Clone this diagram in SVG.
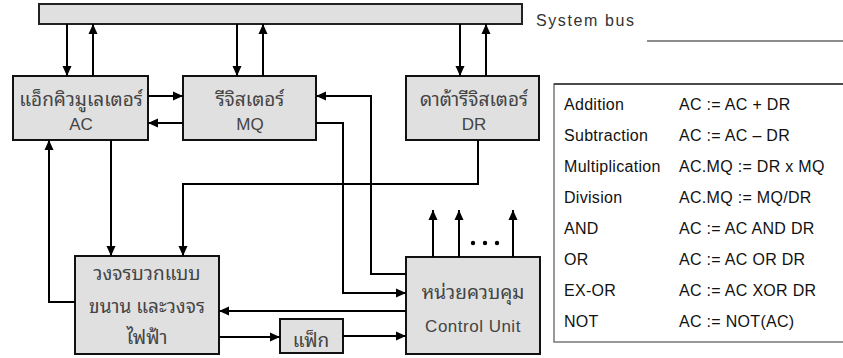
<svg xmlns="http://www.w3.org/2000/svg" width="843" height="358" viewBox="0 0 843 358">
<defs>
<marker id="ah" markerUnits="userSpaceOnUse" markerWidth="10" markerHeight="10" viewBox="0 0 10 10" refX="10" refY="5" orient="auto">
<path d="M0,0.5 L10,5 L0,9.5 Z" fill="#000"/>
</marker>
<style>
.box{fill:#e0e0e0;stroke:#111;stroke-width:2}
.th{font-family:"Noto Sans Thai Looped","Noto Sans Thai","Noto Sans","DejaVu Sans",sans-serif;font-size:19px;fill:#444;text-anchor:middle}
.en{font-family:"Liberation Sans",Arial,sans-serif;font-size:17px;fill:#444;text-anchor:middle}
.tb{font-family:"Liberation Sans",Arial,sans-serif;font-size:16px;fill:#111;letter-spacing:0.3px}
.arr{fill:none;stroke:#000;stroke-width:2;marker-end:url(#ah)}
</style>
</defs>
<rect width="843" height="358" fill="#fff"/>

<g id="bus">
<rect x="39" y="4" width="483" height="20" fill="#e0e0e0" stroke="#222" stroke-width="2"/>
<text x="536" y="26" font-family="Liberation Sans, Arial, sans-serif" font-size="16" fill="#333" letter-spacing="1.6">System bus</text>
<line x1="647" y1="41" x2="843" y2="41" stroke="#666" stroke-width="1.5"/>
</g>

<g id="ac">
<rect class="box" x="13" y="76" width="135" height="64"/>
<text class="th" x="81" y="106">แอ็กคิวมูเลเตอร์</text>
<text class="en" x="81" y="130">AC</text>
</g>
<g id="mq">
<rect class="box" x="183" y="76" width="133" height="64"/>
<text class="th" x="250" y="106">รีจิสเตอร์</text>
<text class="en" x="250" y="130">MQ</text>
</g>
<g id="dr">
<rect class="box" x="406" y="76" width="133" height="64"/>
<text class="th" x="474" y="106">ดาต้ารีจิสเตอร์</text>
<text class="en" x="474" y="130">DR</text>
</g>
<g id="adder">
<rect class="box" x="75" y="256" width="144" height="98"/>
<text class="th" x="147" y="280">วงจรบวกแบบ</text>
<text class="th" x="147" y="313">ขนาน และวงจร</text>
<text class="th" x="147" y="344">ไฟฟ้า</text>
</g>
<g id="flag">
<rect class="box" x="280" y="319" width="63" height="34"/>
<text class="th" x="311" y="347">แฟ็ก</text>
</g>
<g id="cu">
<rect class="box" x="406" y="257" width="134" height="97"/>
<text class="th" x="473" y="299">หน่วยควบคุม</text>
<text class="en" x="473" y="332" letter-spacing="0.5">Control  Unit</text>
<circle cx="473" cy="243" r="2.2" fill="#000"/>
<circle cx="485" cy="243" r="2.2" fill="#000"/>
<circle cx="497" cy="243" r="2.2" fill="#000"/>
</g>

<g id="connectors">
<path class="arr" d="M67,24 V76"/>
<path class="arr" d="M93,76 V24"/>
<path class="arr" d="M237,24 V76"/>
<path class="arr" d="M263,76 V24"/>
<path class="arr" d="M460,24 V76"/>
<path class="arr" d="M486,76 V24"/>
<path class="arr" d="M148,96 H183"/>
<path class="arr" d="M183,123 H148"/>
<path class="arr" d="M406,274 H371 V96 H316"/>
<path class="arr" d="M316,123 H343 V293 H406"/>
<path class="arr" d="M478,140 V184 H183 V256"/>
<path class="arr" d="M111,140 V256"/>
<path class="arr" d="M75,302 H49 V140"/>
<path class="arr" d="M406,311 H219"/>
<path class="arr" d="M219,337 H280"/>
<path class="arr" d="M343,336 H406"/>
<path class="arr" d="M433,257 V210"/>
<path class="arr" d="M459,257 V210"/>
<path class="arr" d="M513,257 V210"/>
</g>

<g id="table">
<path d="M843,84 H554 V342 H843" fill="none" stroke="#777" stroke-width="1.5"/>
<line x1="554" y1="84" x2="843" y2="84" stroke="#333" stroke-width="1.5"/>
<text class="tb" x="564" y="110">Addition</text><text class="tb" x="679" y="110">AC := AC + DR</text>
<text class="tb" x="564" y="141">Subtraction</text><text class="tb" x="679" y="141">AC := AC – DR</text>
<text class="tb" x="564" y="172">Multiplication</text><text class="tb" x="679" y="172">AC.MQ := DR x MQ</text>
<text class="tb" x="564" y="203">Division</text><text class="tb" x="679" y="203">AC.MQ := MQ/DR</text>
<text class="tb" x="564" y="234">AND</text><text class="tb" x="679" y="234">AC := AC AND DR</text>
<text class="tb" x="564" y="265">OR</text><text class="tb" x="679" y="265">AC := AC OR DR</text>
<text class="tb" x="564" y="296">EX-OR</text><text class="tb" x="679" y="296">AC := AC XOR DR</text>
<text class="tb" x="564" y="327">NOT</text><text class="tb" x="679" y="327">AC := NOT(AC)</text>
</g>
</svg>
